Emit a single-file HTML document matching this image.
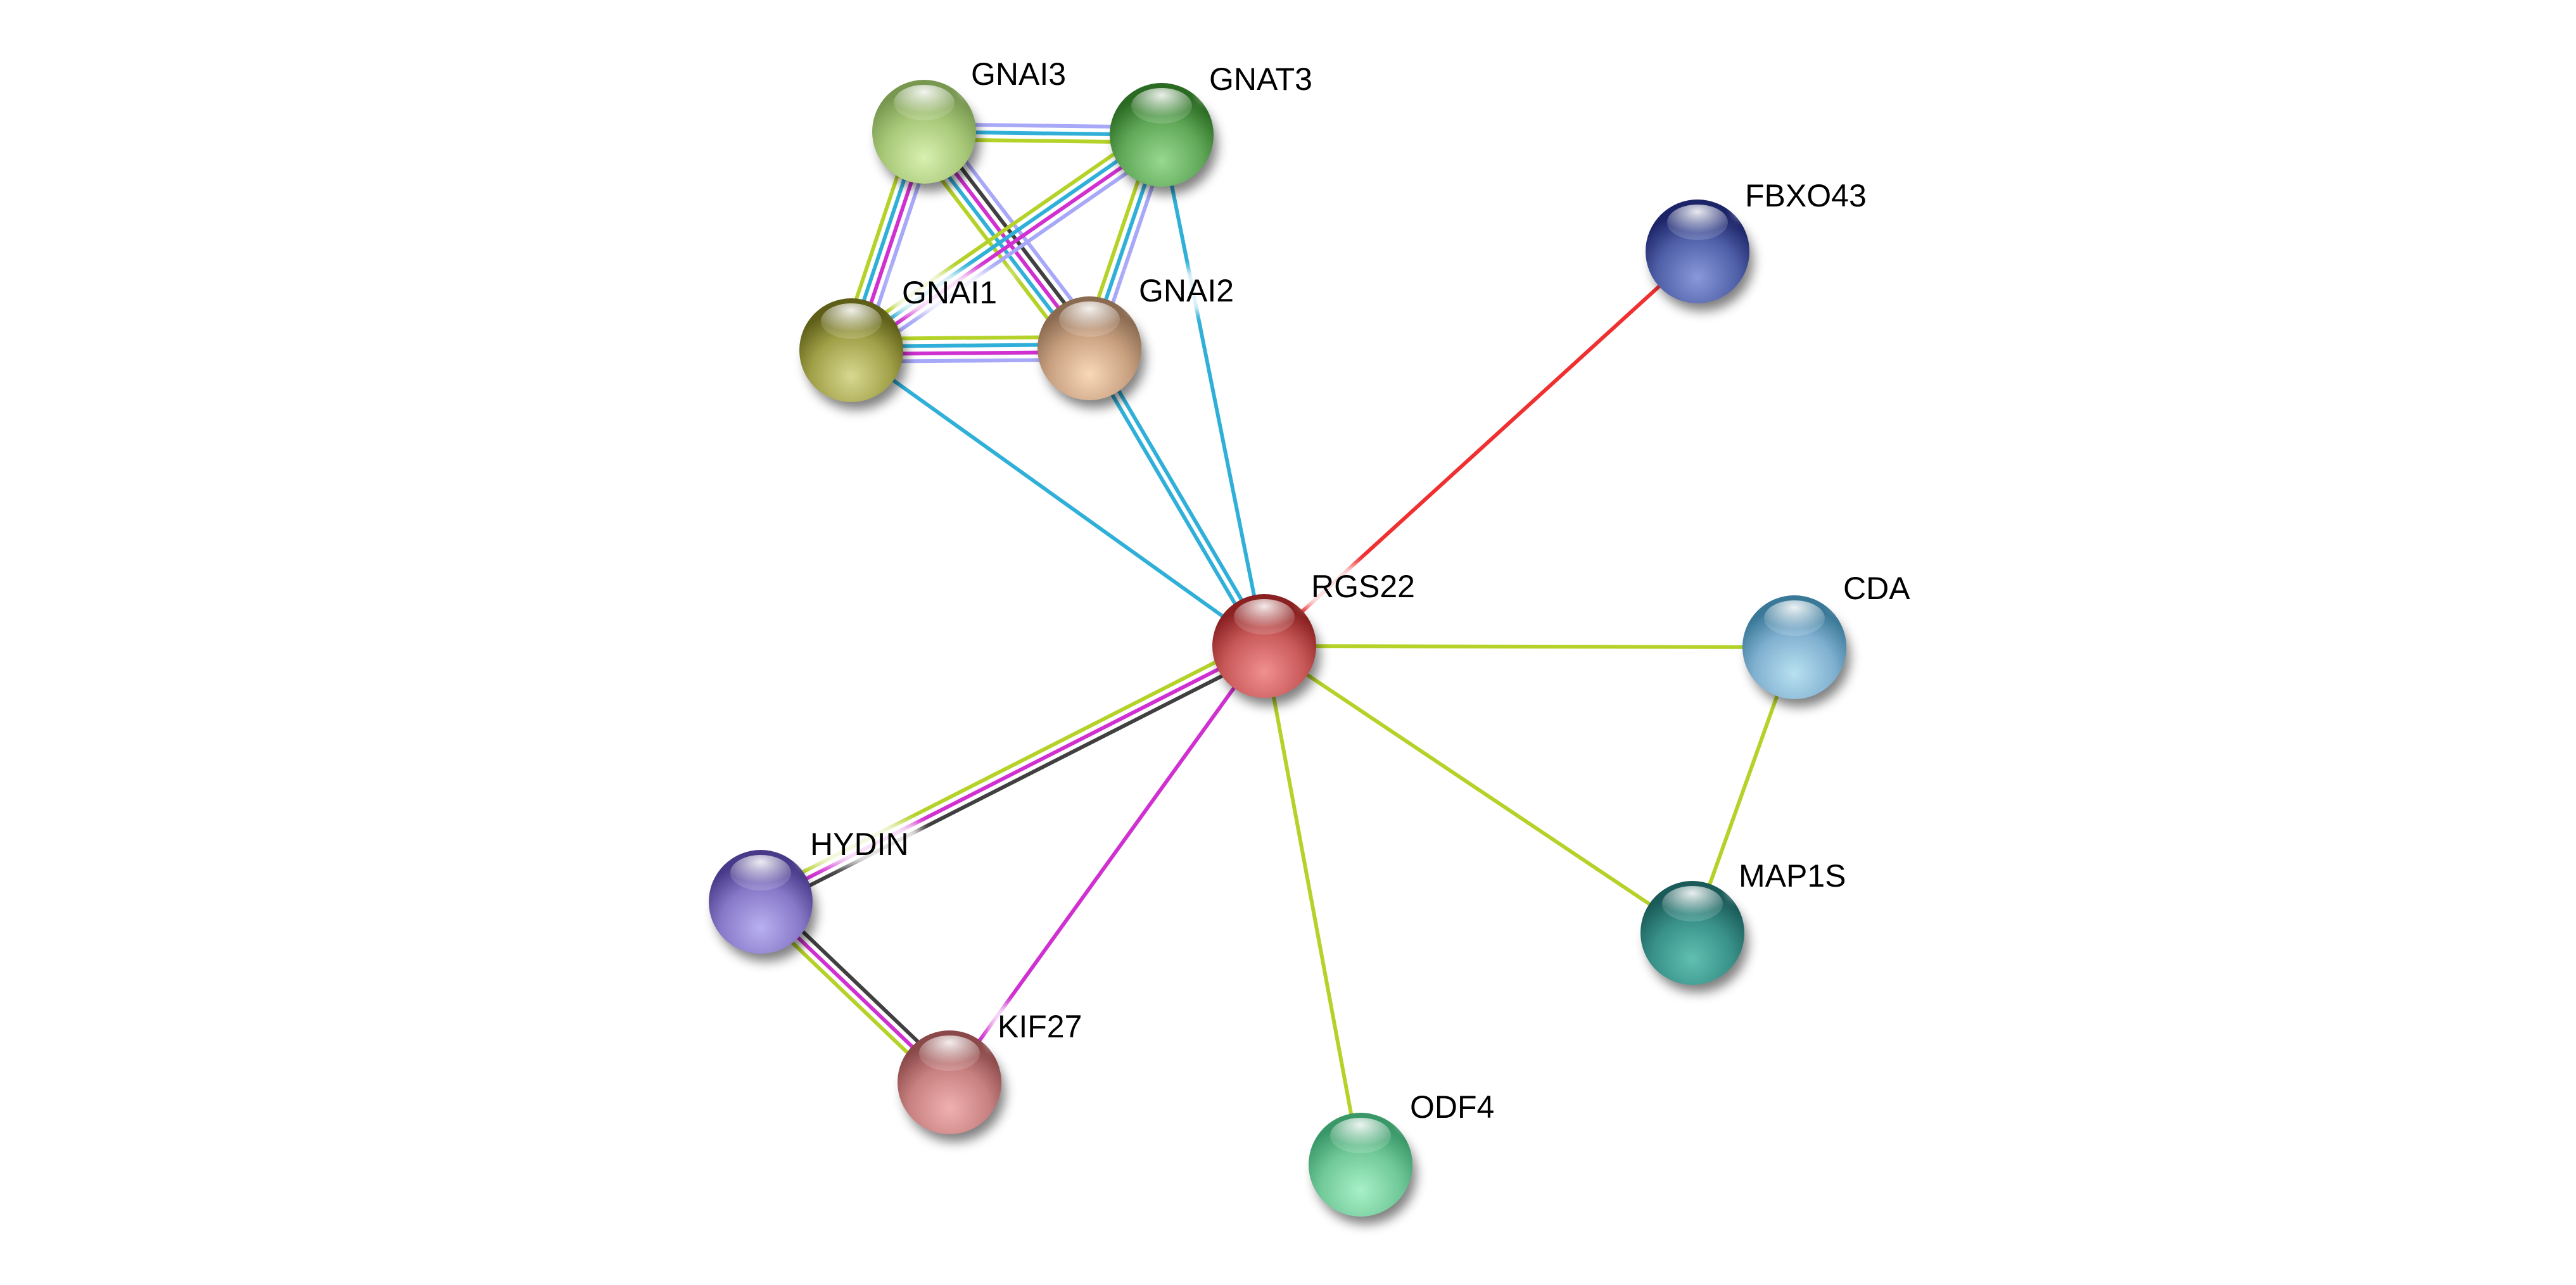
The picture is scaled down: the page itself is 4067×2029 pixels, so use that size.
<!DOCTYPE html>
<html><head><meta charset="utf-8"><style>
html,body{margin:0;padding:0;background:#fff;width:4067px;height:2029px;overflow:hidden}
svg{display:block}
text{font-family:"Liberation Sans",sans-serif;font-size:50px;fill:#000}
</style></head><body>
<svg id="s" width="4067" height="2029" viewBox="0 0 4067 2029" xmlns="http://www.w3.org/2000/svg">
<defs>
<filter id="sh" x="-50%" y="-50%" width="200%" height="200%"><feGaussianBlur stdDeviation="9"/></filter>
<filter id="lb" x="-20%" y="-40%" width="140%" height="180%"><feGaussianBlur stdDeviation="8"/></filter>
<radialGradient id="hl" cx="50%" cy="20%" r="60%"><stop offset="0" stop-color="#fff" stop-opacity="0.9"/><stop offset="1" stop-color="#fff" stop-opacity="0.15"/></radialGradient>
</defs>
<g id="edges"></g><g id="nodes"></g>
</svg>
<script>
var N={
RGS22:[1996,1020,'#f09090','#8a2020','#c85858'],
GNAI3:[1459,208,'#d8f0b0','#789850','#a8c878'],
GNAT3:[1834,213,'#98d890','#2a6a22','#60a858'],
GNAI1:[1344,553,'#d8d890','#5e5e18','#a0a048'],
GNAI2:[1720,550,'#f8d8b8','#8a6a50','#c8a080'],
FBXO43:[2680,397,'#8898d8','#1c2468','#5060a8'],
CDA:[2833,1022,'#b8e0f0','#3a7898','#80b0d0'],
MAP1S:[2672,1473,'#60c0b0','#1a5a58','#389088'],
ODF4:[2148,1839,'#a8f0c8','#3a9868','#70c898'],
KIF27:[1499,1709,'#f0b0b0','#8a4848','#c88080'],
HYDIN:[1201,1424,'#b8b0f0','#483a88','#8878c8']};
var L={RGS22:[2070,926],GNAI3:[1533,117],GNAT3:[1909,125],GNAI1:[1424,462],GNAI2:[1798,459],FBXO43:[2755,309],CDA:[2910,929],MAP1S:[2745,1383],ODF4:[2226,1748],KIF27:[1575,1621],HYDIN:[1279,1333]};
var lv='#a8a8f8',cy='#30b0d8',yg='#b4d228',mg='#d030d0',bk='#404040',rd='#f03030';
var E=[
['GNAI3','GNAT3',[lv,cy,yg]],
['GNAI3','GNAI1',[lv,mg,cy,yg]],
['GNAI3','GNAI2',[lv,bk,mg,cy,yg]],
['GNAT3','GNAI1',[lv,mg,cy,yg]],
['GNAT3','GNAI2',[lv,cy,yg]],
['GNAT3','RGS22',[cy]],
['GNAI1','GNAI2',[yg,cy,mg,lv]],
['GNAI1','RGS22',[cy]],
['GNAI2','RGS22',[cy,cy]],
['RGS22','FBXO43',[rd]],
['RGS22','CDA',[yg]],['RGS22','MAP1S',[yg]],['RGS22','ODF4',[yg]],['CDA','MAP1S',[yg]],
['RGS22','HYDIN',[bk,mg,yg]],
['RGS22','KIF27',[mg]],
['HYDIN','KIF27',[bk,mg,yg]]];
var ns='http://www.w3.org/2000/svg';
function el(t,a,p){var e=document.createElementNS(ns,t);for(var k in a)e.setAttribute(k,a[k]);p.appendChild(e);return e;}
var ge=document.getElementById('edges'),gn=document.getElementById('nodes'),defs=document.querySelector('defs');
E.forEach(function(e){var a=N[e[0]],b=N[e[1]],dx=b[0]-a[0],dy=b[1]-a[1],l=Math.hypot(dx,dy),px=-dy/l,py=dx/l,n=e[2].length;
e[2].forEach(function(c,i){var o=(i-(n-1)/2)*12;el('line',{x1:a[0]+px*o,y1:a[1]+py*o,x2:b[0]+px*o,y2:b[1]+py*o,stroke:c,'stroke-width':6},ge);});});
var i=0;
for(var k in N){var d=N[k],x=d[0],y=d[1];i++;
var g=el('radialGradient',{id:'g'+i,cx:'50%',cy:'75%',r:'65%'},defs);
el('stop',{offset:'0','stop-color':d[2]},g);el('stop',{offset:'0.6','stop-color':d[4]},g);el('stop',{offset:'1','stop-color':d[3]},g);
el('ellipse',{cx:x+8,cy:y+16,rx:80,ry:78,fill:'#000',opacity:0.5,filter:'url(#sh)'},gn);
el('circle',{cx:x,cy:y,r:82,fill:'url(#g'+i+')'},gn);
el('ellipse',{cx:x,cy:y-46,rx:48,ry:28,fill:'url(#hl)'},gn);
var lp=L[k],w=k.length*32;
el('rect',{x:lp[0]-14,y:lp[1]-34,width:w+28,height:68,fill:'#fff',opacity:0.85,filter:'url(#lb)'},gn);
var t=el('text',{x:lp[0],y:lp[1]+17},gn);t.textContent=k;}
</script>
</body></html>
